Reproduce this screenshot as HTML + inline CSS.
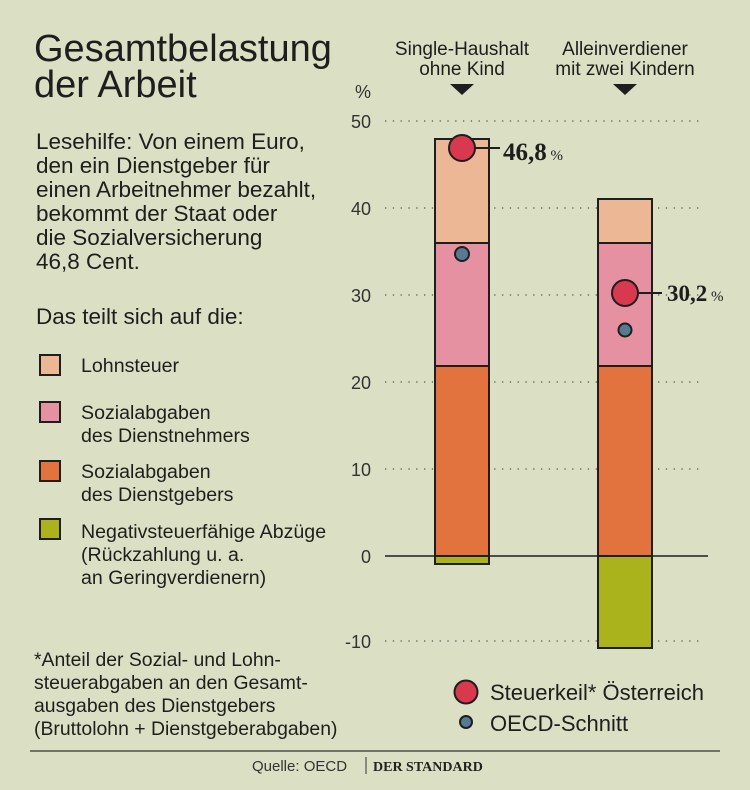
<!DOCTYPE html>
<html><head><meta charset="utf-8"><style>
html,body{margin:0;padding:0;background:#dbe0c4;}
svg{display:block;font-family:"Liberation Sans",sans-serif;}
</style></head><body>
<svg width="750" height="790" viewBox="0 0 750 790">
<rect width="750" height="790" fill="#dbe0c4"/>
<g fill="#1e1e1e">
<text x="34" y="61" font-size="38">Gesamtbelastung</text>
<text x="34" y="97" font-size="38">der Arbeit</text>
<g font-size="22.5">
<text x="36" y="149">Lesehilfe: Von einem Euro,</text>
<text x="36" y="173">den ein Dienstgeber für</text>
<text x="36" y="197">einen Arbeitnehmer bezahlt,</text>
<text x="36" y="221">bekommt der Staat oder</text>
<text x="36" y="245">die Sozialversicherung</text>
<text x="36" y="269">46,8 Cent.</text>
<text x="36" y="324">Das teilt sich auf die:</text>
</g>
<g font-size="19.6">
<text x="81" y="372">Lohnsteuer</text>
<text x="81" y="419">Sozialabgaben</text>
<text x="81" y="442">des Dienstnehmers</text>
<text x="81" y="478">Sozialabgaben</text>
<text x="81" y="501">des Dienstgebers</text>
<text x="81" y="538">Negativsteuerfähige Abzüge</text>
<text x="81" y="561">(Rückzahlung u. a.</text>
<text x="81" y="584">an Geringverdienern)</text>
</g>
<g font-size="19.4">
<text x="34" y="666">*Anteil der Sozial- und Lohn-</text>
<text x="34" y="689">steuerabgaben an den Gesamt-</text>
<text x="34" y="712">ausgaben des Dienstgebers</text>
<text x="34" y="735">(Bruttolohn + Dienstgeberabgaben)</text>
</g>
</g>
<g stroke="#1e1e1e" stroke-width="2">
<rect x="40" y="355" width="20" height="20" fill="#ebb795"/>
<rect x="40" y="402" width="20" height="20" fill="#e591a1"/>
<rect x="40" y="461" width="20" height="20" fill="#e2733f"/>
<rect x="40" y="519" width="20" height="20" fill="#aab21c"/>
</g>
<g fill="#1e1e1e" font-size="19" text-anchor="middle">
<text x="462" y="55">Single-Haushalt</text>
<text x="462" y="75">ohne Kind</text>
<text x="625" y="55">Alleinverdiener</text>
<text x="625" y="75">mit zwei Kindern</text>
</g>
<polygon points="450,84 474,84 462,95" fill="#1e1e1e"/>
<polygon points="613,84 637,84 625,95" fill="#1e1e1e"/>
<g fill="#333" font-size="18" text-anchor="end">
<text x="371" y="98">%</text>
<text x="371" y="128">50</text>
<text x="371" y="215">40</text>
<text x="371" y="302">30</text>
<text x="371" y="389">20</text>
<text x="371" y="476">10</text>
<text x="371" y="563">0</text>
<text x="371" y="648">-10</text>
</g>
<g stroke="#555" stroke-width="1.3" stroke-dasharray="1.3 6.5">
<line x1="385" y1="121" x2="703" y2="121"/>
<line x1="385" y1="208" x2="703" y2="208"/>
<line x1="385" y1="295" x2="703" y2="295"/>
<line x1="385" y1="382" x2="703" y2="382"/>
<line x1="385" y1="469" x2="703" y2="469"/>
<line x1="385" y1="641" x2="703" y2="641"/>
</g>
<g stroke="#1e1e1e" stroke-width="2">
<rect x="435" y="139" width="54" height="104" fill="#ebb795"/>
<rect x="435" y="243" width="54" height="123" fill="#e591a1"/>
<rect x="435" y="366" width="54" height="190" fill="#e2733f"/>
<rect x="435" y="556" width="54" height="8" fill="#aab21c"/>
<rect x="598" y="199" width="54" height="44" fill="#ebb795"/>
<rect x="598" y="243" width="54" height="123" fill="#e591a1"/>
<rect x="598" y="366" width="54" height="190" fill="#e2733f"/>
<rect x="598" y="556" width="54" height="92" fill="#aab21c"/>
</g>
<line x1="385" y1="556" x2="708" y2="556" stroke="#1e1e1e" stroke-width="1.5"/>
<g stroke="#1e1e1e" stroke-width="2">
<line x1="475" y1="148" x2="500" y2="148"/>
<line x1="638" y1="293" x2="662" y2="293"/>
<circle cx="462" cy="148" r="13" fill="#d8394f"/>
<circle cx="462" cy="254" r="7" fill="#557a92"/>
<circle cx="625" cy="293" r="13" fill="#d8394f"/>
<circle cx="625" cy="330" r="6.5" fill="#557a92"/>
</g>
<g fill="#1e1e1e" font-family="Liberation Serif,serif" font-weight="bold">
<text x="503" y="160" font-size="25">46,8<tspan font-size="15" font-weight="normal"> %</tspan></text>
<text x="667" y="301" font-size="23">30,2<tspan font-size="15" font-weight="normal"> %</tspan></text>
</g>
<circle cx="466" cy="692" r="11.5" fill="#d8394f" stroke="#1e1e1e" stroke-width="2"/>
<circle cx="466" cy="722" r="6" fill="#557a92" stroke="#1e1e1e" stroke-width="2"/>
<g fill="#1e1e1e" font-size="22">
<text x="490" y="700">Steuerkeil* Österreich</text>
<text x="490" y="731">OECD-Schnitt</text>
</g>
<line x1="30" y1="751" x2="720" y2="751" stroke="#333" stroke-width="1.2"/>
<text x="252" y="771" font-size="15" fill="#333">Quelle: OECD</text>
<line x1="366" y1="757" x2="366" y2="774" stroke="#333" stroke-width="1"/>
<text x="373" y="771" font-size="14" font-family="Liberation Serif,serif" font-weight="bold" fill="#222">DER STANDARD</text>
</svg>
</body></html>
